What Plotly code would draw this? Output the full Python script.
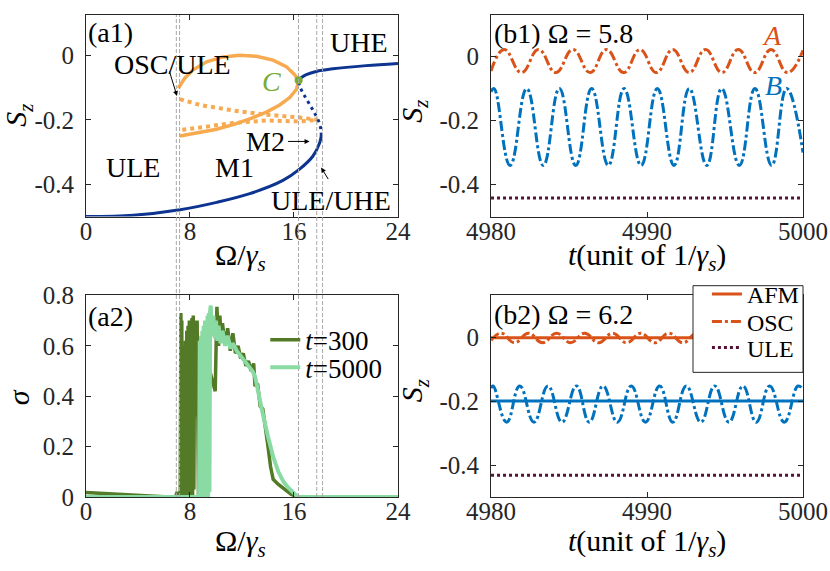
import plotly.graph_objects as go

# ---- (a1) steady states vs Omega ----
low_x = [0, 3.65, 7.23, 10.05, 12.6, 15.15, 16.43, 17.45, 17.97, 18.1]
low_y = [-0.5, -0.496, -0.479, -0.456, -0.429, -0.388, -0.353, -0.313, -0.272, -0.25]
mid_x = [18.1, 18.08, 17.97, 17.6, 17.33, 16.82, 16.43, 16.36]
mid_y = [-0.25, -0.235, -0.212, -0.18, -0.161, -0.126, -0.095, -0.077]
up_x = [16.36, 16.6, 16.95, 17.71, 18.99, 21.55, 24]
up_y = [-0.077, -0.068, -0.06, -0.05, -0.042, -0.032, -0.025]
loop_x = [7.23, 8.76, 10.05, 11.32, 12.6, 13.88, 14.9, 15.67, 16.18, 16.36,
          16.05, 15.41, 14.39, 13.11, 11.83, 10.55, 9.28, 8.25, 7.61, 7.1]
loop_y = [-0.25, -0.24, -0.229, -0.215, -0.197, -0.176, -0.154, -0.131, -0.106, -0.08,
          -0.06, -0.035, -0.015, -0.003, 0.0, -0.005, -0.02, -0.045, -0.07, -0.102]
dot_x = [7.23, 8.76, 11.32, 13.88, 16.43, 17.84, 16.43, 13.88, 11.32, 9.28, 7.23]
dot_y = [-0.136, -0.154, -0.171, -0.184, -0.193, -0.2, -0.205, -0.202, -0.21, -0.22, -0.232]
c_pt = (16.36, -0.077)
bounds = [6.95, 7.2, 16.35, 17.75, 18.2]

# ---- (a2) sigma vs Omega ----
s300_x = [0, 1, 2, 3, 4, 5, 6, 6.9, 7.0, 7.1, 7.25, 7.3, 7.33, 7.37, 7.4, 7.45, 7.5, 7.55, 7.6,
          7.65, 7.7, 7.75, 7.8, 7.85, 7.9, 7.95, 8.0, 8.05, 8.1, 8.15, 8.2, 8.25, 8.3, 8.35, 8.4,
          8.45, 8.5, 8.55, 8.6, 8.65, 8.7, 8.8, 9.0, 9.5, 9.94, 10.07, 10.2, 10.3, 10.4, 10.5,
          10.7, 10.9, 11.1, 11.3, 11.5, 11.7, 11.9, 12.1, 12.3, 12.5, 12.7, 12.9, 13.0, 13.2,
          13.4, 13.6, 13.8, 14.0, 14.2, 14.4, 14.8, 15.3, 15.8, 16.3, 24]
s300_y = [0.018, 0.015, 0.011, 0.008, 0.005, 0.003, 0.001, 0.0, 0.02, 0.0, 0.0, 0.73, 0.05, 0.70,
          0.0, 0.55, 0.02, 0.60, 0.0, 0.62, 0.03, 0.66, 0.0, 0.68, 0.02, 0.70, 0.0, 0.66, 0.05,
          0.71, 0.0, 0.72, 0.03, 0.70, 0.45, 0.68, 0.32, 0.70, 0.35, 0.0, 0.6, 0.1, 0.6, 0.5,
          0.42, 0.755, 0.6, 0.72, 0.62, 0.69, 0.6, 0.67, 0.58, 0.65, 0.57, 0.6, 0.55, 0.57,
          0.52, 0.54, 0.5, 0.53, 0.44, 0.45, 0.36, 0.35, 0.26, 0.2, 0.12, 0.07, 0.05, 0.03,
          0.01, 0.0, 0.0]
s5000_x = [0, 8.7, 8.75, 8.8, 8.85, 8.9, 8.95, 9.0, 9.05, 9.1, 9.15, 9.2, 9.25, 9.3, 9.35, 9.4,
           9.45, 9.5, 9.55, 9.6, 9.7, 9.8, 9.9, 10.0, 10.1, 10.2, 10.35, 10.5, 10.7, 10.9, 11.1,
           11.3, 11.6, 11.9, 12.2, 12.5, 12.8, 13.0, 13.3, 13.6, 14.0, 14.4, 14.8, 15.2, 15.6,
           16.0, 16.3, 24]
s5000_y = [0, 0, 0.62, 0.0, 0.64, 0.02, 0.66, 0.0, 0.68, 0.03, 0.70, 0.0, 0.69, 0.02, 0.72, 0.0,
           0.73, 0.02, 0.74, 0.76, 0.64, 0.72, 0.63, 0.70, 0.62, 0.68, 0.61, 0.66, 0.60, 0.64,
           0.59, 0.61, 0.58, 0.56, 0.54, 0.52, 0.50, 0.48, 0.40, 0.33, 0.24, 0.16, 0.10, 0.06,
           0.035, 0.012, 0.0, 0.0]

# ---- (b1) Omega = 5.8 ----
t_end = [4980, 5000]
b1_A_t = [4980.0, 4980.85, 4981.95, 4983.05, 4984.15, 4985.25, 4986.35, 4987.4, 4988.5, 4989.55,
          4990.6, 4991.65, 4992.7, 4993.75, 4994.8, 4995.85, 4996.9, 4997.95, 4999.0, 5000.0]
b1_A_y = [-0.045, 0.022, -0.05, 0.022, -0.05, 0.022, -0.05, 0.022, -0.05, 0.022,
          -0.05, 0.022, -0.05, 0.022, -0.05, 0.022, -0.05, 0.022, -0.05, 0.02]
b1_B_t = [4980.0, 4980.19, 4981.22, 4982.29, 4983.35, 4984.38, 4985.43, 4986.45, 4987.52, 4988.53,
          4989.62, 4990.66, 4991.73, 4992.71, 4993.83, 4994.79, 4995.92, 4996.92, 4997.99,
          4998.95, 5000.0]
b1_B_y = [-0.11, -0.10, -0.34, -0.10, -0.34, -0.10, -0.34, -0.10, -0.34, -0.10,
          -0.34, -0.10, -0.34, -0.10, -0.34, -0.10, -0.34, -0.10, -0.34, -0.10, -0.30]
b1_ule = [-0.442, -0.442]

# ---- (b2) Omega = 6.2 ----
b2_afm_A = [-0.002, -0.002]
b2_afm_B = [-0.2, -0.2]
b2_ule = [-0.432, -0.432]
b2_oA_t = [4980.0, 4980.66, 4981.5, 4982.4, 4983.3, 4984.2, 4985.1, 4986.0, 4986.9, 4987.8,
           4988.7, 4989.6, 4990.5, 4991.4, 4992.3, 4993.2, 4994.1, 4995.0, 4995.9, 4996.8,
           4997.7, 4998.6, 4999.5, 5000.0]
b2_oA_y = [-0.01, 0.012, -0.018, 0.012, -0.018, 0.012, -0.018, 0.012, -0.018, 0.012,
           -0.018, 0.012, -0.018, 0.012, -0.018, 0.012, -0.018, 0.012, -0.018, 0.012,
           -0.018, 0.012, -0.018, -0.005]
b2_oB_t = [4980.0, 4980.13, 4981.0, 4981.84, 4982.75, 4983.65, 4984.55, 4985.47, 4986.3, 4987.18,
           4988.1, 4988.99, 4989.9, 4990.81, 4991.65, 4992.52, 4993.45, 4994.34, 4995.25,
           4996.15, 4997.0, 4997.86, 4998.8, 4999.68, 5000.0]
b2_oB_y = [-0.16, -0.153, -0.266, -0.153, -0.266, -0.153, -0.266, -0.153, -0.266, -0.153,
           -0.266, -0.153, -0.266, -0.153, -0.266, -0.153, -0.266, -0.153, -0.266,
           -0.153, -0.266, -0.153, -0.266, -0.153, -0.165]

NAVY = "#0d3490"
LORANGE = "#f7aa50"
ORANGE = "#d95319"
BLUE = "#0072bd"
MAROON = "#561235"
DGREEN = "#537a26"
LGREEN = "#8adba3"
FONT = "Liberation Serif"
DASHDOT = "10px,3px,3px,3px"

fig = go.Figure()

# a1
fig.add_trace(go.Scatter(x=loop_x, y=loop_y, mode="lines", line=dict(color=LORANGE, width=3.5),
                         showlegend=False, xaxis="x", yaxis="y"))
fig.add_trace(go.Scatter(x=dot_x, y=dot_y, mode="lines", line=dict(color=LORANGE, width=4, dash="dot"),
                         showlegend=False, xaxis="x", yaxis="y"))
fig.add_trace(go.Scatter(x=low_x, y=low_y, mode="lines", line=dict(color=NAVY, width=3, shape="spline"),
                         showlegend=False, xaxis="x", yaxis="y"))
fig.add_trace(go.Scatter(x=mid_x, y=mid_y, mode="lines",
                         line=dict(color=NAVY, width=3, dash="3px,4px", shape="spline"),
                         showlegend=False, xaxis="x", yaxis="y"))
fig.add_trace(go.Scatter(x=up_x, y=up_y, mode="lines", line=dict(color=NAVY, width=3, shape="spline"),
                         showlegend=False, xaxis="x", yaxis="y"))
fig.add_trace(go.Scatter(x=[c_pt[0]], y=[c_pt[1]], mode="markers",
                         marker=dict(color="#77ac30", size=8), showlegend=False, xaxis="x", yaxis="y"))

# a2 (one legend per entry so each row sits where the reference has it)
fig.add_trace(go.Scatter(x=s300_x, y=s300_y, mode="lines", line=dict(color=DGREEN, width=3.5),
                         name="<i>t</i>=300", legend="legend", xaxis="x2", yaxis="y2"))
fig.add_trace(go.Scatter(x=s5000_x, y=s5000_y, mode="lines", line=dict(color=LGREEN, width=4),
                         name="<i>t</i>=5000", legend="legend3", xaxis="x2", yaxis="y2"))

# b1
fig.add_trace(go.Scatter(x=t_end, y=b1_ule, mode="lines", line=dict(color=MAROON, width=3, dash="dot"),
                         showlegend=False, xaxis="x3", yaxis="y3"))
fig.add_trace(go.Scatter(x=b1_B_t, y=b1_B_y, mode="lines",
                         line=dict(color=BLUE, width=3, dash=DASHDOT, shape="spline", smoothing=1.3),
                         showlegend=False, xaxis="x3", yaxis="y3"))
fig.add_trace(go.Scatter(x=b1_A_t, y=b1_A_y, mode="lines",
                         line=dict(color=ORANGE, width=3, dash=DASHDOT, shape="spline", smoothing=1.3),
                         showlegend=False, xaxis="x3", yaxis="y3"))

# b2
fig.add_trace(go.Scatter(x=t_end, y=b2_afm_B, mode="lines", line=dict(color=BLUE, width=3),
                         showlegend=False, xaxis="x4", yaxis="y4"))
fig.add_trace(go.Scatter(x=b2_oB_t, y=b2_oB_y, mode="lines",
                         line=dict(color=BLUE, width=3, dash=DASHDOT, shape="spline", smoothing=1.3),
                         showlegend=False, xaxis="x4", yaxis="y4"))
fig.add_trace(go.Scatter(x=t_end, y=b2_afm_A, mode="lines", line=dict(color=ORANGE, width=3),
                         name="AFM", legend="legend2", xaxis="x4", yaxis="y4"))
fig.add_trace(go.Scatter(x=b2_oA_t, y=b2_oA_y, mode="lines",
                         line=dict(color=ORANGE, width=3, dash=DASHDOT, shape="spline", smoothing=1.3),
                         name="OSC", legend="legend4", xaxis="x4", yaxis="y4"))
fig.add_trace(go.Scatter(x=t_end, y=b2_ule, mode="lines", line=dict(color=MAROON, width=3, dash="dot"),
                         name="ULE", legend="legend5", xaxis="x4", yaxis="y4"))

# boundary lines across a1 and a2
for b in bounds:
    fig.add_shape(type="line", xref="x", yref="paper", x0=b, x1=b, y0=0, y1=1,
                  line=dict(color="#a8a8a8", width=1, dash="4px,2px"), layer="above")
# frame of the (b2) legend
fig.add_shape(type="rect", xref="paper", yref="paper", x0=0.8466, x1=1.0, y0=0.2586, y1=0.4384,
              line=dict(color="#262626", width=1), fillcolor="white", layer="above")

ax_common = dict(showline=True, linecolor="#262626", linewidth=1, mirror="ticks", ticks="inside",
                 ticklen=5, tickcolor="#262626", showgrid=False, zeroline=False,
                 tickfont=dict(family=FONT, size=25, color="#262626"))
xa = dict(ticklabelstandoff=-8, **ax_common)
ya = dict(ticklabelstandoff=6, **ax_common)
dom_a = [0, 0.4351]
dom_b = [0.5649, 1]
dom_top = [0.5818, 1]
dom_bot = [0, 0.4182]
sz_ticks = dict(tickvals=[0, -0.2, -0.4], ticktext=["0", "-0.2", "-0.4"])
leg_a = dict(x=0.25, xanchor="left", yanchor="top", bgcolor="rgba(0,0,0,0)",
             font=dict(family=FONT, size=27), itemwidth=30)
leg_b = dict(x=0.866, xanchor="left", yanchor="top", bgcolor="rgba(0,0,0,0)",
             font=dict(family=FONT, size=24), itemwidth=30)

fig.update_layout(
    width=830, height=571, plot_bgcolor="white", paper_bgcolor="white",
    margin=dict(l=86, r=27, t=2, b=74),
    font=dict(family=FONT, size=25, color="black"),
    xaxis=dict(domain=dom_a, anchor="y", range=[0, 24], tickvals=[0, 8, 16, 24], **xa),
    yaxis=dict(domain=dom_top, anchor="x", range=[-0.5, 0.125], **sz_ticks, **ya),
    xaxis2=dict(domain=dom_a, anchor="y2", range=[0, 24], tickvals=[0, 8, 16, 24], **xa),
    yaxis2=dict(domain=dom_bot, anchor="x2", range=[0, 0.8], tickvals=[0, 0.2, 0.4, 0.6, 0.8],
                ticktext=["0", "0.2", "0.4", "0.6", "0.8"], **ya),
    xaxis3=dict(domain=dom_b, anchor="y3", range=[4980, 5000], tickvals=[4980, 4990, 5000], **xa),
    yaxis3=dict(domain=dom_top, anchor="x3", range=[-0.5, 0.13], **sz_ticks, **ya),
    xaxis4=dict(domain=dom_b, anchor="y4", range=[4980, 5000], tickvals=[4980, 4990, 5000], **xa),
    yaxis4=dict(domain=dom_bot, anchor="x4", range=[-0.5, 0.13], **sz_ticks, **ya),
    legend=dict(y=0.376, **leg_a),
    legend3=dict(y=0.319, **leg_a),
    legend2=dict(y=0.467, **leg_b),
    legend4=dict(y=0.410, **leg_b),
    legend5=dict(y=0.356, **leg_b),
)

def txt(text, x, y, xref, yref, color="black", size=28, xanchor="center", angle=0):
    fig.add_annotation(text=text, x=x, y=y, xref=xref, yref=yref, showarrow=False,
                       font=dict(family=FONT, size=size, color=color), xanchor=xanchor,
                       yanchor="middle", textangle=angle)

def arrow(x, y, ax, ay):
    fig.add_annotation(text="", x=x, y=y, xref="x", yref="y", ax=ax, ay=ay, showarrow=True,
                       arrowhead=2, arrowsize=1, arrowwidth=1, arrowcolor="black", standoff=0)

# a1 labels
txt("(a1)", 0.0, 0.071, "x", "y", xanchor="left")
txt("UHE", 21.03, 0.041, "x", "y")
txt("OSC/ULE", 6.62, -0.029, "x", "y")
txt("ULE", 3.63, -0.347, "x", "y")
txt("M1", 11.45, -0.347, "x", "y")
txt("M2", 13.83, -0.268, "x", "y")
txt("ULE/UHE", 18.81, -0.45, "x", "y")
txt("<i>C</i>", 14.26, -0.08, "x", "y", color="#77ac30")
arrow(7.0, -0.126, -8, -26)
arrow(17.2, -0.267, -23, 0)
arrow(18.09, -0.348, 8, 13)

# a2 / b labels
txt("(a2)", 0.0, 0.716, "x2", "y2", xanchor="left")
txt("(b1) Ω = 5.8", 4980.05, 0.071, "x3", "y3", xanchor="left")
txt("<i>A</i>", 4998.0, 0.066, "x3", "y3", color=ORANGE)
txt("<i>B</i>", 4998.1, -0.09, "x3", "y3", color=BLUE)
txt("(b2) Ω = 6.2", 4980.05, 0.069, "x4", "y4", xanchor="left")

# axis titles
xt_a = "Ω/<i>γ<sub>s</sub></i>"
xt_b = "<i>t</i>(unit of 1/<i>γ<sub>s</sub></i>)"
sz = "<i>S<sub>z</sub></i>"
txt(xt_a, 0.216, 0.497, "paper", "paper", size=30)
txt(xt_a, 0.216, -0.095, "paper", "paper", size=30)
txt(xt_b, 0.782, 0.497, "paper", "paper", size=30)
txt(xt_b, 0.782, -0.095, "paper", "paper", size=30)
txt(sz, -0.094, 0.792, "paper", "paper", size=30, angle=-90)
txt("<i>σ</i>", -0.094, 0.206, "paper", "paper", size=30, angle=-90)
txt(sz, 0.458, 0.80, "paper", "paper", size=30, angle=-90)
txt(sz, 0.458, 0.22, "paper", "paper", size=30, angle=-90)

fig.write_html("out.html", config={"displayModeBar": False},
               post_script="document.body.style.margin='0';")
